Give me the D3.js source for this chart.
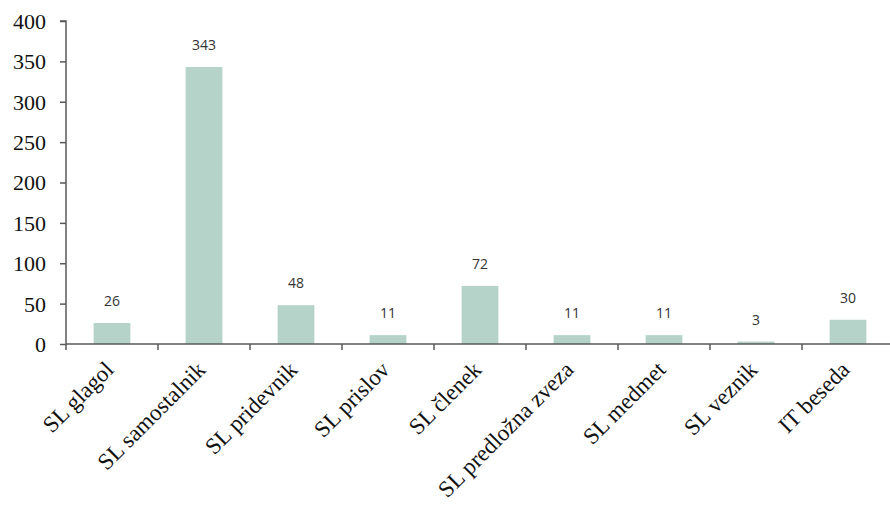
<!DOCTYPE html>
<html>
<head>
<meta charset="utf-8">
<script src="https://cdn.jsdelivr.net/npm/d3@7"></script>
<style>
  html, body { margin: 0; padding: 0; background: #fff; }
  svg { display: block; }
  .tick-label { font-family: "Liberation Serif", "Times New Roman", serif; font-size: 22px; fill: #111; }
  .cat-label { font-family: "Liberation Serif", "Times New Roman", serif; font-size: 23px; fill: #111; }
  .value-label { font-family: "Open Sans", "DejaVu Sans", sans-serif; font-size: 14px; fill: #333; }
</style>
</head>
<body>
<svg id="chart" width="890" height="506"></svg>
<script>
// Word-class counts
const categories = ["SL glagol", "SL samostalnik", "SL pridevnik", "SL prislov", "SL členek",
  "SL predložna zveza", "SL medmet", "SL veznik", "IT beseda"];
const counts = [26, 343, 48, 11, 72, 11, 11, 3, 30];
const yTicks = [0, 50, 100, 150, 200, 250, 300, 350, 400];

const svg = d3.select("#chart");
const plotLeft = 66, plotRight = 894, plotTop = 21, plotBottom = 344;

const x = d3.scaleBand().domain(categories).range([plotLeft, plotRight])
  .paddingInner(0.6).paddingOuter(0.3);
const y = d3.scaleLinear().domain([0, 400]).range([plotBottom, plotTop]);

const axisColor = "#595959";

// bars
svg.append("g").selectAll("rect").data(categories).join("rect")
  .attr("x", d => x(d))
  .attr("width", x.bandwidth())
  .attr("y", (d, i) => y(counts[i]))
  .attr("height", (d, i) => y(0) - y(counts[i]))
  .attr("fill", "#b5d3c8");

// value labels
svg.append("g").selectAll("text").data(categories).join("text")
  .attr("class", "value-label")
  .attr("x", d => x(d) + x.bandwidth() / 2)
  .attr("y", (d, i) => y(counts[i]) - 17)
  .attr("text-anchor", "middle")
  .text((d, i) => counts[i]);

// y axis
const yAxis = svg.append("g").attr("transform", `translate(${plotLeft},0)`)
  .call(d3.axisLeft(y).tickValues(yTicks).tickSize(6).tickPadding(14));
yAxis.attr("font-family", null).attr("font-size", null);
yAxis.selectAll("text").attr("class", "tick-label").attr("fill", null).attr("dy", "0.34em");
yAxis.selectAll("path, line").attr("stroke", axisColor).attr("stroke-width", 1.5);
yAxis.select("path.domain").attr("d", `M-6,${plotTop}H0V${plotBottom}`);

// x axis with ticks at category boundaries
const xAxis = svg.append("g").attr("transform", `translate(0,${plotBottom})`);
xAxis.append("line").attr("x1", plotLeft).attr("x2", 890).attr("y1", 0).attr("y2", 0);
const step = x.step();
const boundaries = categories.map(d => x(d) - x.paddingOuter() * step);
xAxis.selectAll("line.tk").data(boundaries).join("line").attr("class", "tk")
  .attr("x1", d => d).attr("x2", d => d).attr("y1", 0).attr("y2", 6);
xAxis.selectAll("line").attr("stroke", axisColor).attr("stroke-width", 1.5);

xAxis.selectAll("text").data(categories).join("text")
  .attr("class", "cat-label")
  .attr("transform", d => `translate(${x(d) + x.bandwidth() / 2 + 3},${27}) rotate(-45)`)
  .attr("text-anchor", "end")
  .text(d => d);
</script>
</body>
</html>
